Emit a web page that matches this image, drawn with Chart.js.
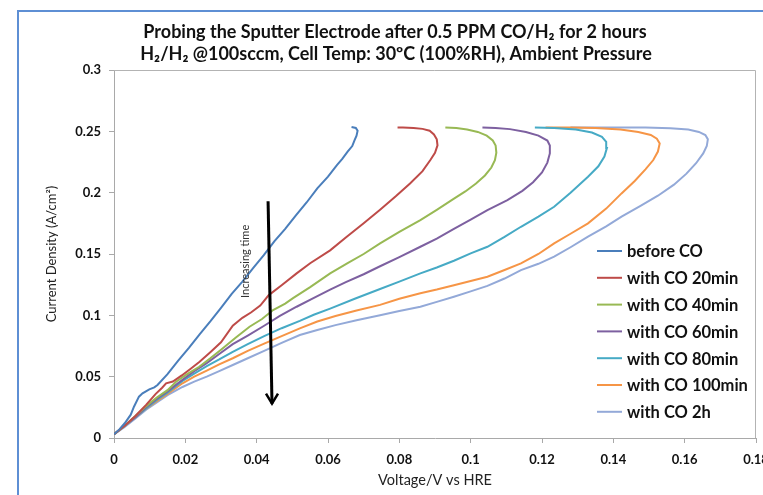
<!DOCTYPE html>
<html><head><meta charset="utf-8">
<script src="https://cdn.jsdelivr.net/npm/chart.js@4/dist/chart.umd.min.js"></script>
<style>
html,body{margin:0;padding:0;background:#fff;}
#wrap{position:relative;width:763px;height:495px;overflow:hidden;}
#frame{position:absolute;left:17px;top:10px;width:800px;height:600px;border-top:2px solid #5E8FD4;border-left:2px solid #5E8FD4;}
canvas{position:absolute;left:0;top:0;}
</style></head><body>
<div id="wrap"><div id="frame"></div><canvas id="c" width="763" height="495"></canvas></div>
<script>
// ---------- data ----------
const titleLines = ["Probing the Sputter Electrode after 0.5 PPM CO/H\u2082 for 2 hours",
                    "H\u2082/H\u2082 @100sccm, Cell Temp: 30\u00baC (100%RH), Ambient Pressure"];
const xTitle = "Voltage/V vs HRE";
const yTitle = "Current Density (A/cm\u00b2)";
const xTickValues = [0, 0.02, 0.04, 0.06, 0.08, 0.1, 0.12, 0.14, 0.16, 0.18];
const xTickLabels = ["0", "0.02", "0.04", "0.06", "0.08", "0.1", "0.12", "0.14", "0.16", "0.18"];
const yTickValues = [0, 0.05, 0.1, 0.15, 0.2, 0.25, 0.3];
const yTickLabels = ["0", "0.05", "0.1", "0.15", "0.2", "0.25", "0.3"];
const seriesNames = ["before CO", "with CO 20min", "with CO 40min", "with CO 60min", "with CO 80min", "with CO 100min", "with CO 2h"];

const beforeCO_V = [0, 0.0015, 0.003, 0.0047, 0.0056, 0.007, 0.008, 0.0099, 0.0113, 0.0122, 0.015, 0.018, 0.021, 0.024, 0.027, 0.030, 0.033, 0.036, 0.039, 0.042, 0.045, 0.048, 0.051, 0.054, 0.057, 0.060, 0.0625, 0.064, 0.0655, 0.0668, 0.0674, 0.068, 0.0683, 0.0678, 0.0666];
const beforeCO_J = [0.003, 0.007, 0.012, 0.019, 0.0255, 0.0337, 0.0364, 0.0397, 0.0413, 0.0432, 0.052, 0.063, 0.0735, 0.0845, 0.095, 0.106, 0.1175, 0.1275, 0.1385, 0.149, 0.1605, 0.1705, 0.1815, 0.192, 0.2035, 0.213, 0.2225, 0.2275, 0.2335, 0.238, 0.2425, 0.2465, 0.2505, 0.2528, 0.2535];

const co20_V = [0, 0.003, 0.006, 0.009, 0.0117, 0.0135, 0.0146, 0.0165, 0.019, 0.0215, 0.024, 0.027, 0.030, 0.0333, 0.036, 0.0385, 0.041, 0.0434, 0.047, 0.0512, 0.055, 0.0606, 0.065, 0.070, 0.0746, 0.079, 0.083, 0.0865, 0.0887, 0.0900, 0.0907, 0.0905, 0.0897, 0.0885, 0.0865, 0.084, 0.081, 0.0795];
const co20_J = [0.003, 0.010, 0.018, 0.027, 0.036, 0.041, 0.0446, 0.046, 0.051, 0.0565, 0.0622, 0.070, 0.078, 0.0915, 0.098, 0.1025, 0.108, 0.1165, 0.1245, 0.1342, 0.1425, 0.153, 0.1635, 0.175, 0.186, 0.197, 0.2075, 0.2175, 0.2266, 0.2325, 0.2385, 0.2435, 0.2475, 0.2505, 0.252, 0.2528, 0.2532, 0.2532];

const co40_V = [0, 0.003, 0.006, 0.009, 0.012, 0.015, 0.0174, 0.0205, 0.0239, 0.027, 0.030, 0.034, 0.038, 0.0415, 0.0446, 0.048, 0.0502, 0.055, 0.0606, 0.0655, 0.070, 0.0746, 0.080, 0.0859, 0.0905, 0.095, 0.0985, 0.1015, 0.104, 0.1058, 0.1068, 0.1072, 0.107, 0.1062, 0.1045, 0.102, 0.099, 0.096, 0.0929];
const co40_J = [0.003, 0.010, 0.018, 0.026, 0.033, 0.039, 0.0459, 0.052, 0.0581, 0.065, 0.072, 0.0815, 0.0907, 0.097, 0.1043, 0.1095, 0.114, 0.123, 0.1342, 0.1425, 0.150, 0.1587, 0.168, 0.1777, 0.186, 0.1945, 0.201, 0.2075, 0.214, 0.2205, 0.2265, 0.2325, 0.2385, 0.2425, 0.2465, 0.2495, 0.2515, 0.2527, 0.2532];

const co60_V = [0, 0.003, 0.006, 0.009, 0.012, 0.015, 0.0192, 0.0225, 0.026, 0.0295, 0.0333, 0.0375, 0.0421, 0.0465, 0.0512, 0.0555, 0.0606, 0.065, 0.070, 0.0746, 0.080, 0.0859, 0.0905, 0.0953, 0.100, 0.1047, 0.1103, 0.1145, 0.1175, 0.120, 0.1215, 0.1222, 0.1222, 0.1215, 0.119, 0.1155, 0.111, 0.107, 0.1033];
const co60_J = [0.003, 0.010, 0.017, 0.025, 0.032, 0.038, 0.0475, 0.0545, 0.061, 0.0685, 0.0765, 0.0835, 0.0915, 0.0995, 0.107, 0.1135, 0.121, 0.127, 0.1335, 0.14, 0.1475, 0.1559, 0.1625, 0.1705, 0.178, 0.1858, 0.194, 0.2015, 0.2085, 0.2165, 0.2245, 0.232, 0.2385, 0.2425, 0.2465, 0.2495, 0.2518, 0.2528, 0.2532];

const co80_V = [0, 0.003, 0.006, 0.009, 0.012, 0.015, 0.0192, 0.0225, 0.026, 0.0295, 0.0333, 0.0375, 0.0421, 0.047, 0.0521, 0.056, 0.0606, 0.0675, 0.0746, 0.080, 0.0859, 0.0905, 0.0953, 0.100, 0.1047, 0.1095, 0.1141, 0.119, 0.1234, 0.128, 0.1329, 0.1358, 0.1375, 0.1382, 0.138, 0.1368, 0.134, 0.1295, 0.1234, 0.118];
const co80_J = [0.003, 0.010, 0.017, 0.024, 0.031, 0.037, 0.0465, 0.0525, 0.0585, 0.064, 0.0703, 0.0765, 0.083, 0.0895, 0.0955, 0.1005, 0.1055, 0.1135, 0.1215, 0.1275, 0.1342, 0.139, 0.1445, 0.1505, 0.1559, 0.164, 0.1722, 0.1805, 0.1885, 0.2, 0.213, 0.2215, 0.2295, 0.2365, 0.2415, 0.2455, 0.249, 0.2515, 0.2528, 0.2532];

const co100_V = [0, 0.003, 0.006, 0.009, 0.012, 0.015, 0.0192, 0.0225, 0.026, 0.0295, 0.0333, 0.0375, 0.0421, 0.047, 0.0521, 0.057, 0.0621, 0.068, 0.0746, 0.080, 0.0859, 0.0905, 0.0953, 0.100, 0.1047, 0.1095, 0.1141, 0.119, 0.1234, 0.128, 0.1329, 0.138, 0.1423, 0.146, 0.149, 0.1512, 0.1525, 0.153, 0.1522, 0.1505, 0.147, 0.142, 0.135, 0.128, 0.121];
const co100_J = [0.003, 0.010, 0.017, 0.024, 0.030, 0.036, 0.0446, 0.050, 0.055, 0.060, 0.065, 0.071, 0.077, 0.083, 0.0894, 0.095, 0.0995, 0.104, 0.1085, 0.1135, 0.118, 0.121, 0.1245, 0.128, 0.1315, 0.137, 0.1424, 0.150, 0.1587, 0.1665, 0.175, 0.187, 0.1994, 0.2095, 0.219, 0.2266, 0.2335, 0.2402, 0.244, 0.247, 0.2495, 0.2515, 0.2527, 0.2532, 0.2532];

const co2h_V = [0, 0.003, 0.006, 0.009, 0.012, 0.015, 0.0192, 0.0225, 0.026, 0.0295, 0.0333, 0.0375, 0.0421, 0.047, 0.0521, 0.057, 0.0621, 0.068, 0.0746, 0.080, 0.0859, 0.0905, 0.0953, 0.100, 0.1047, 0.1095, 0.1141, 0.119, 0.1234, 0.128, 0.1329, 0.138, 0.1423, 0.1475, 0.1525, 0.157, 0.1605, 0.1632, 0.1652, 0.1662, 0.1665, 0.1658, 0.164, 0.161, 0.156, 0.149, 0.142, 0.134, 0.128];
const co2h_J = [0.003, 0.009, 0.016, 0.023, 0.029, 0.035, 0.0416, 0.046, 0.050, 0.0545, 0.0595, 0.065, 0.071, 0.0775, 0.084, 0.088, 0.092, 0.096, 0.100, 0.1035, 0.107, 0.111, 0.1152, 0.1195, 0.124, 0.130, 0.1369, 0.142, 0.1478, 0.1555, 0.1641, 0.1725, 0.1804, 0.189, 0.1975, 0.2065, 0.2155, 0.224, 0.232, 0.238, 0.2435, 0.247, 0.2495, 0.2515, 0.2525, 0.2532, 0.2532, 0.2532, 0.2532];

// annotation (arrow + note) in data units
const arrowFrom = [0.0432, 0.193];
const arrowTo = [0.0443, 0.028];
const arrowNote = "Increasing time";
const arrowNoteAt = [0.0368, 0.144];

// ---------- styling ----------
const FONT = 'Lato, "Open Sans", "DejaVu Sans", sans-serif';
const colors = ["#4A7EBB", "#BE4B48", "#98B954", "#7D60A0", "#46AAC5", "#F69546", "#93A9D8"];
const allV = [beforeCO_V, co20_V, co40_V, co60_V, co80_V, co100_V, co2h_V];
const allJ = [beforeCO_J, co20_J, co40_J, co60_J, co80_J, co100_J, co2h_J];

const datasets = seriesNames.map((name, k) => ({
  label: name,
  data: allV[k].map((v, i) => ({x: v, y: allJ[k][i]})),
  borderColor: colors[k], backgroundColor: colors[k],
  showLine: true, pointRadius: 0, borderWidth: 2, tension: 0, fill: false
}));

const titlePlugin = {
  id: 'twoLineTitle',
  afterDraw(chart) {
    const {ctx} = chart;
    ctx.save();
    ctx.font = 'bold 18px ' + FONT; ctx.fillStyle = '#111';
    ctx.textAlign = 'center'; ctx.textBaseline = 'middle';
    ctx.fillText(titleLines[0], 395, 32);
    ctx.fillText(titleLines[1], 396, 54);
    ctx.restore();
  }
};

const frameBorder = {
  id: 'frameBorder',
  afterDraw(chart) {
    const {ctx, chartArea: a} = chart;
    ctx.save();
    ctx.strokeStyle = '#B3B3B3'; ctx.lineWidth = 1;
    ctx.beginPath();
    ctx.moveTo(a.left, a.top + 0.5); ctx.lineTo(a.right - 0.5, a.top + 0.5); ctx.lineTo(a.right - 0.5, a.bottom);
    ctx.stroke();
    ctx.restore();
  }
};

const arrowPlugin = {
  id: 'arrowPlugin',
  afterDatasetsDraw(chart) {
    const {ctx, scales: {x, y}} = chart;
    const x0 = x.getPixelForValue(arrowFrom[0]), y0 = y.getPixelForValue(arrowFrom[1]);
    const x1 = x.getPixelForValue(arrowTo[0]), y1 = y.getPixelForValue(arrowTo[1]);
    ctx.save();
    ctx.strokeStyle = '#000'; ctx.lineWidth = 3; ctx.lineCap = 'butt';
    ctx.beginPath(); ctx.moveTo(x0, y0); ctx.lineTo(x1, y1); ctx.stroke();
    ctx.lineWidth = 2.5;
    ctx.beginPath(); ctx.moveTo(x1 - 6, y1 - 10); ctx.lineTo(x1, y1); ctx.lineTo(x1 + 6, y1 - 10); ctx.stroke();
    const tx = x.getPixelForValue(arrowNoteAt[0]), ty = y.getPixelForValue(arrowNoteAt[1]);
    ctx.translate(tx, ty); ctx.rotate(-Math.PI / 2);
    ctx.font = '11px ' + FONT; ctx.fillStyle = '#333'; ctx.textAlign = 'center'; ctx.textBaseline = 'middle';
    ctx.fillText(arrowNote, 0, 0);
    ctx.restore();
  }
};

const legendPlugin = {
  id: 'insideLegend',
  afterDraw(chart) {
    const {ctx, chartArea: a} = chart;
    const lx = a.right - 159, ty = a.top + 181, step = 26.8;
    ctx.save();
    ctx.font = 'bold 16.5px ' + FONT; ctx.textBaseline = 'middle'; ctx.textAlign = 'left';
    chart.data.datasets.forEach((ds, i) => {
      const yy = ty + i * step;
      ctx.strokeStyle = ds.borderColor; ctx.lineWidth = 2;
      ctx.beginPath(); ctx.moveTo(lx, yy); ctx.lineTo(lx + 25, yy); ctx.stroke();
      ctx.fillStyle = '#111';
      ctx.fillText(ds.label, lx + 30, yy + 1);
    });
    ctx.restore();
  }
};

const axisCommon = {
  grid: {display: true, drawOnChartArea: false, drawTicks: true, tickLength: 5, color: '#A9A9A9'},
  border: {display: true, color: '#A9A9A9', width: 1},
};

new Chart(document.getElementById('c'), {
  type: 'scatter',
  data: {datasets},
  options: {
    responsive: false, animation: false, devicePixelRatio: 1,
    layout: {padding: {left: 0, right: 7, top: 70, bottom: 0}},
    plugins: {
      legend: {display: false}, tooltip: {enabled: false}, title: {display: false}
    },
    scales: {
      x: Object.assign({}, axisCommon, {
        type: 'linear', min: 0, max: 0.18,
        afterBuildTicks(s) { s.ticks = xTickValues.map(v => ({value: v})); },
        afterFit(s) { s.height = 57; s.paddingLeft = 0; s.paddingRight = 0; },
        ticks: {callback: (v, i) => xTickLabels[i], padding: 9, maxRotation: 0, autoSkip: false,
                color: '#111', font: {family: FONT, size: 13, weight: 'bold'}},
        title: {display: true, text: xTitle, color: '#222', font: {family: FONT, size: 14.5, lineHeight: 1.2},
                padding: {top: 0, bottom: 6}}
      }),
      y: Object.assign({}, axisCommon, {
        type: 'linear', min: 0, max: 0.3,
        afterBuildTicks(s) { s.ticks = yTickValues.map(v => ({value: v})); },
        afterFit(s) { s.width = 114; s.paddingTop = 0; s.paddingBottom = 0; },
        ticks: {callback: (v, i) => yTickLabels[i], padding: 8, autoSkip: false,
                color: '#111', font: {family: FONT, size: 13, weight: 'bold'}},
        title: {display: true, text: yTitle, color: '#222', font: {family: FONT, size: 13, lineHeight: 1.2},
                padding: {top: 44, bottom: 0}}
      })
    }
  },
  plugins: [titlePlugin, frameBorder, arrowPlugin, legendPlugin]
});
</script>
</body></html>
